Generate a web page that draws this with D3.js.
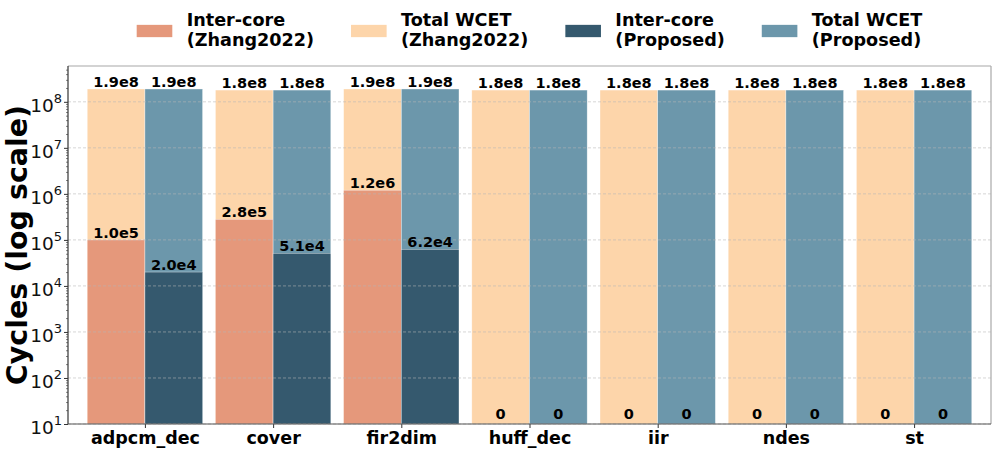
<!DOCTYPE html>
<html>
<head>
<meta charset="utf-8">
<script src="https://cdn.jsdelivr.net/npm/d3@7"></script>
<style>
  html, body { margin: 0; padding: 0; background: #fff; }
  svg { display: block; font-family: "DejaVu Sans", sans-serif; }
</style>
</head>
<body>
<svg id="chart" width="996" height="453"></svg>
<script>
// ---------------------------------
// data
// ---------------------------------
var categories     = ["adpcm_dec", "cover", "fir2dim", "huff_dec", "iir", "ndes", "st"];
var interZhang     = [1.0e5, 2.8e5, 1.2e6, 0, 0, 0, 0];
var totalZhang     = [1.9e8, 1.8e8, 1.9e8, 1.8e8, 1.8e8, 1.8e8, 1.8e8];
var interProposed  = [2.0e4, 5.1e4, 6.2e4, 0, 0, 0, 0];
var totalProposed  = [1.9e8, 1.8e8, 1.9e8, 1.8e8, 1.8e8, 1.8e8, 1.8e8];
var yTicks         = [1e1, 1e2, 1e3, 1e4, 1e5, 1e6, 1e7, 1e8];

var legendNames = [
	["Inter-core", "(Zhang2022)"],
	["Total WCET", "(Zhang2022)"],
	["Inter-core", "(Proposed)"],
	["Total WCET", "(Proposed)"]
];
var colors = ["#e5987b", "#fdd5aa", "#35596e", "#6c97ab"];

(function(){

	// ---------------------------------
	// layout
	// ---------------------------------
	var pLeft = 68, pRight = 991, pTop = 66, pBottom = 424;
	var barW = 0.45;

	var svg = d3.select("#chart");

	var x = d3.scaleLinear().domain([-0.6, 6.6]).range([pLeft, pRight]);
	var y = d3.scaleLog().domain([10, 6e8]).range([pBottom, pTop]);

	// bar series: total drawn first, inter-core over it
	var series = [
		{ values: totalZhang,    color: colors[1], off: -barW },
		{ values: interZhang,    color: colors[0], off: -barW },
		{ values: totalProposed, color: colors[3], off: 0 },
		{ values: interProposed, color: colors[2], off: 0 }
	];

	var gBars = svg.append("g");
	series.forEach(function(s){
		gBars.selectAll(null)
			.data(s.values.map(function(v, i){ return { v: v, i: i }; }).filter(function(d){ return d.v > 0; }))
			.enter().append("rect")
			.attr("x", function(d){ return x(d.i + s.off); })
			.attr("width", x(barW) - x(0))
			.attr("y", function(d){ return y(d.v); })
			.attr("height", function(d){ return pBottom - y(d.v); })
			.attr("fill", s.color)
			.attr("stroke", "#ffffff")
			.attr("stroke-width", 0.6)
			.attr("stroke-opacity", 0.6);
	});

	// grid on top of the bars
	svg.append("g").selectAll("line")
		.data(yTicks)
		.enter().append("line")
		.attr("x1", pLeft).attr("x2", pRight)
		.attr("y1", function(d){ return y(d); })
		.attr("y2", function(d){ return y(d); })
		.attr("stroke", "#b8b8b8")
		.attr("stroke-width", 0.8)
		.attr("stroke-dasharray", "3,2")
		.attr("opacity", 0.7);

	// value labels
	var gLab = svg.append("g")
		.attr("font-weight", "bold")
		.attr("font-size", "14.5px")
		.attr("text-anchor", "middle")
		.attr("fill", "#000");

	function fmt(v){
		if (v === 0) return "0";
		return v.toExponential(1).replace("+", "");
	}

	series.forEach(function(s){
		s.values.forEach(function(v, i){
			gLab.append("text")
				.attr("x", x(i + s.off + barW / 2))
				.attr("y", v > 0 ? y(v) - 2 : pBottom - 5)
				.text(fmt(v));
		});
	});

	// ---------------------------------
	// axes
	// ---------------------------------
	var yAxis = svg.append("g")
		.attr("transform", "translate(" + pLeft + ",0)")
		.call(d3.axisLeft(y).tickValues(yTicks).tickSize(4).tickPadding(2).tickFormat(function(){ return ""; }));
	yAxis.select(".domain").remove();
	yAxis.selectAll(".tick line").attr("stroke", "#333");
	yAxis.selectAll(".tick text").each(function(d){
		var t = d3.select(this)
			.attr("font-family", "DejaVu Sans")
			.attr("font-size", "18.5px")
			.attr("fill", "#111")
			.attr("dy", "0.5em");
		t.append("tspan").text("10");
		t.append("tspan")
			.attr("font-size", "13px")
			.attr("dy", "-0.65em")
			.text(Math.round(Math.log10(d)));
	});

	// minor ticks
	var minor = [];
	for (var e = 1; e <= 8; e++){
		for (var m = 2; m <= 9; m++){
			var mv = m * Math.pow(10, e);
			if (mv < 6e8) minor.push(mv);
		}
	}
	var yMinor = svg.append("g")
		.attr("transform", "translate(" + pLeft + ",0)")
		.call(d3.axisLeft(y).tickValues(minor).tickSize(2).tickFormat(function(){ return ""; }));
	yMinor.select(".domain").remove();
	yMinor.selectAll(".tick line").attr("stroke", "#333").attr("stroke-width", 0.6);

	var xAxis = svg.append("g")
		.attr("transform", "translate(0," + pBottom + ")")
		.call(d3.axisBottom(x).tickValues(d3.range(categories.length)).tickSize(4).tickPadding(4)
			.tickFormat(function(i){ return categories[i]; }));
	xAxis.select(".domain").remove();
	xAxis.selectAll(".tick line").attr("stroke", "#333");
	xAxis.selectAll(".tick text")
		.attr("font-family", "DejaVu Sans")
		.attr("font-size", "17.5px")
		.attr("font-weight", "bold")
		.attr("fill", "#000");

	// spines
	svg.append("line").attr("x1", pLeft).attr("x2", pRight).attr("y1", pTop).attr("y2", pTop)
		.attr("stroke", "#a8a8a8").attr("stroke-width", 1.2);
	svg.append("line").attr("x1", pRight).attr("x2", pRight).attr("y1", pTop).attr("y2", pBottom)
		.attr("stroke", "#a8a8a8").attr("stroke-width", 1.2);
	svg.append("line").attr("x1", pLeft).attr("x2", pLeft).attr("y1", pTop).attr("y2", pBottom)
		.attr("stroke", "#333").attr("stroke-width", 1.2);
	svg.append("line").attr("x1", pLeft).attr("x2", pRight).attr("y1", pBottom).attr("y2", pBottom)
		.attr("stroke", "#555").attr("stroke-width", 1.2);

	// y label
	svg.append("text")
		.attr("transform", "translate(27," + ((pTop + pBottom) / 2) + ") rotate(-90)")
		.attr("text-anchor", "middle")
		.attr("font-size", "28.5px")
		.attr("font-weight", "bold")
		.attr("fill", "#000")
		.text("Cycles (log scale)");

	// ---------------------------------
	// legend
	// ---------------------------------
	var patchW = 35.6, patchH = 12.3, textGap = 14.4, colGap = 37;
	var gLeg = svg.append("g")
		.attr("font-size", "17.6px")
		.attr("font-weight", "bold")
		.attr("fill", "#000");

	var entries = [];
	legendNames.forEach(function(n, k){
		var g = gLeg.append("g");
		g.append("rect")
			.attr("width", patchW).attr("height", patchH)
			.attr("y", 31 - patchH / 2)
			.attr("fill", colors[k]);
		var t = g.append("text");
		t.append("tspan").attr("x", patchW + textGap).attr("y", 26).text(n[0]);
		t.append("tspan").attr("x", patchW + textGap).attr("y", 45.5).text(n[1]);
		var w = patchW + textGap + t.node().getBBox().width;
		entries.push({ g: g, w: w });
	});
	var total = d3.sum(entries, function(d){ return d.w; }) + colGap * (entries.length - 1);
	var cx = (pLeft + pRight) / 2 - total / 2;
	entries.forEach(function(d){
		d.g.attr("transform", "translate(" + cx + ",0)");
		cx += d.w + colGap;
	});

})();
</script>
</body>
</html>
